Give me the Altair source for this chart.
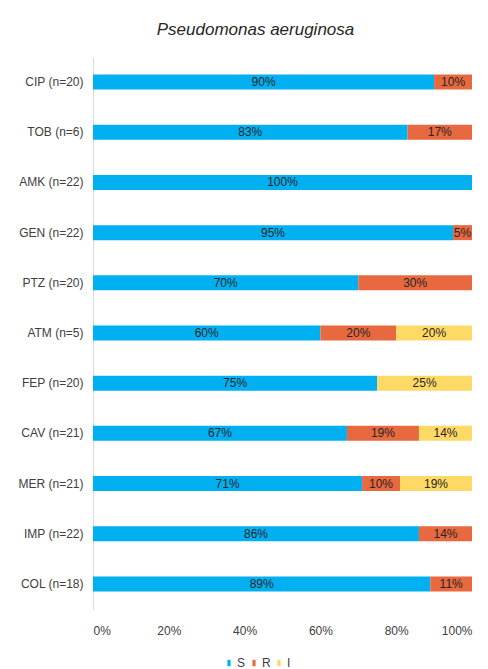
import altair as alt
import pandas as pd

# Antibiotic susceptibility of Pseudomonas aeruginosa isolates
drugs = ["CIP (n=20)", "TOB (n=6)", "AMK (n=22)", "GEN (n=22)", "PTZ (n=20)",
         "ATM (n=5)", "FEP (n=20)", "CAV (n=21)", "MER (n=21)", "IMP (n=22)", "COL (n=18)"]
pct_s = [90, 83, 100, 95, 70, 60, 75, 67, 71, 86, 89]
pct_r = [10, 17, 0, 5, 30, 20, 0, 19, 10, 14, 11]
pct_i = [0, 0, 0, 0, 0, 20, 25, 14, 19, 0, 0]
categories = ["S", "R", "I"]
colors = ["#00B0F0", "#E8683F", "#FFD966"]

rows = []
for d, s, r, i in zip(drugs, pct_s, pct_r, pct_i):
    for cat, v in zip(categories, [s, r, i]):
        rows.append({"drug": d, "cat": cat, "order": categories.index(cat), "pct": v})
df = pd.DataFrame(rows)

FONT = "Liberation Sans"

base = alt.Chart(df).transform_filter(alt.datum.pct > 0).transform_stack(
    stack="pct", groupby=["drug"], as_=["x0", "x1"],
    sort=[alt.SortField("order", order="ascending")]
).transform_calculate(
    mid="(datum.x0 + datum.x1) / 2",
    label="datum.pct + '%'"
)

y_enc = alt.Y("drug:N", sort=drugs, title=None,
              scale=alt.Scale(paddingInner=0.7, paddingOuter=0.35),
              axis=alt.Axis(domainColor="#d9d9d9", ticks=False, labelPadding=10,
                            labelFontSize=12, labelColor="#404040", labelFont=FONT))

bars = base.mark_bar(size=15).encode(
    x=alt.X("x0:Q", title=None,
            scale=alt.Scale(domain=[0, 100], nice=False),
            axis=alt.Axis(values=[0, 20, 40, 60, 80, 100], labelExpr="datum.value + '%'",
                          domain=False, ticks=False, grid=False, labelPadding=16,
                          labelFontSize=12, labelColor="#404040", labelFont=FONT)),
    x2="x1:Q",
    y=y_enc,
    color=alt.Color("cat:N", sort=categories,
                    scale=alt.Scale(domain=categories, range=colors),
                    legend=alt.Legend(title=None, orient="none", direction="horizontal",
                                      legendX=130, legendY=600,
                                      symbolType="M-0.5,-1L0.5,-1L0.5,1L-0.5,1Z",
                                      symbolSize=40, symbolStrokeWidth=0,
                                      labelFont=FONT, labelFontSize=12,
                                      labelColor="#404040", columnPadding=2,
                                      labelOffset=2)),
)

labels = base.mark_text(font=FONT, fontSize=12, color="#262626", baseline="middle").encode(
    x="mid:Q",
    y=alt.Y("drug:N", sort=drugs),
    text="label:N",
)

chart = alt.layer(bars, labels).properties(
    width=379, height=552,
    title=alt.TitleParams("Pseudomonas aeruginosa", fontStyle="italic", fontWeight="normal",
                          font="Liberation Sans", fontSize=17, color="#262626",
                          anchor="middle", dx=-27, offset=18),
    autosize=alt.AutoSizeParams(type="none"),
    padding={"left": 93, "top": 57, "right": 16, "bottom": 60},
).configure_view(stroke=None)

chart.save("out.html", embed_options={"renderer": "svg", "actions": False})
